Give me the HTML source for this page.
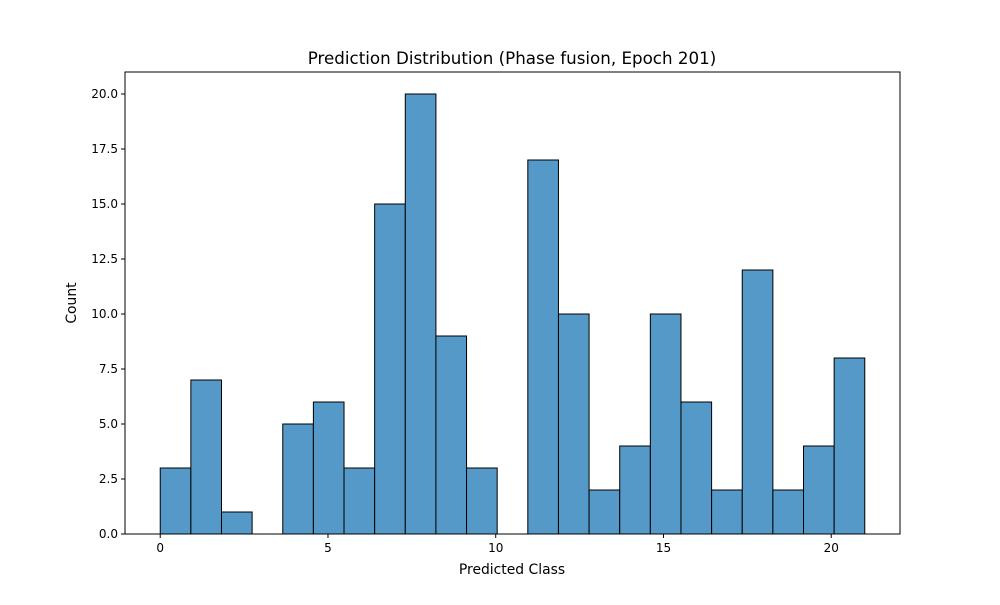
<!DOCTYPE html>
<html><head><meta charset="utf-8"><style>
body{margin:0;background:#fff;}
svg text{font-family:"DejaVu Sans","Liberation Sans",sans-serif;fill:#000;}
</style></head><body>
<svg id="chart" width="1000" height="600" xmlns="http://www.w3.org/2000/svg">
<rect width="1000" height="600" fill="#fff"/>
<text x="512" y="64" font-size="16.7" text-anchor="middle">Prediction Distribution (Phase fusion, Epoch 201)</text>
<g id="bars"></g>
<g id="xticks"></g>
<g id="yticks"></g>
<rect x="125" y="72" width="775" height="462" fill="none" stroke="#000" stroke-width="1"/>
<text x="512" y="574" font-size="13.9" text-anchor="middle">Predicted Class</text>
<text x="76" y="303" font-size="13.9" text-anchor="middle" transform="rotate(-90 76 303)">Count</text>
</svg>
<script>
const counts=[3,7,1,0,5,6,3,15,20,9,3,0,17,10,2,4,10,6,2,12,2,4,8];
const binMin=0, binMax=21;
const xTicks=[0,5,10,15,20];
const yTicks=[0,2.5,5,7.5,10,12.5,15,17.5,20];
const yTickLabels=["0.0","2.5","5.0","7.5","10.0","12.5","15.0","17.5","20.0"];
const X0=125,X1=900,Y0=534,Y1=72,xmin=-1.05,xmax=22.05,ymin=0,ymax=21;
const ns="http://www.w3.org/2000/svg";
function sx(v){return X0+(v-xmin)/(xmax-xmin)*(X1-X0);}
function sy(v){return Y0-(v-ymin)/(ymax-ymin)*(Y0-Y1);}
function mk(t,a){const e=document.createElementNS(ns,t);for(const k in a)e.setAttribute(k,a[k]);return e;}
const bw=(binMax-binMin)/counts.length;
const bg=document.getElementById('bars');
counts.forEach((c,i)=>{
 if(c<=0)return;
 const a=binMin+i*bw,b=a+bw;
 const r=mk('rect',{x:sx(a),y:sy(c),width:sx(b)-sx(a),height:sy(0)-sy(c),fill:'#5599c8',stroke:'#000','stroke-width':1});
 
 
 bg.appendChild(r);
});
const xg=document.getElementById('xticks');
xTicks.forEach(t=>{
 const x=sx(t);
 const l=mk('line',{x1:x,x2:x,y1:Y0,y2:Y0+4,stroke:'#000'});
 
 
 xg.appendChild(l);
 const tx=mk('text',{x:x,y:Y0+18,'font-size':12,'text-anchor':'middle'});
 tx.textContent=t;
 
 
 xg.appendChild(tx);
});
const yg=document.getElementById('yticks');
yTicks.forEach((t,i)=>{
 const y=sy(t);
 const l=mk('line',{x1:X0-4,x2:X0,y1:y,y2:y,stroke:'#000'});
 
 
 yg.appendChild(l);
 const tx=mk('text',{x:X0-7,y:y+4,'font-size':12,'text-anchor':'end'});
 tx.textContent=yTickLabels[i];
 
 
 yg.appendChild(tx);
});
</script>
</body></html>
